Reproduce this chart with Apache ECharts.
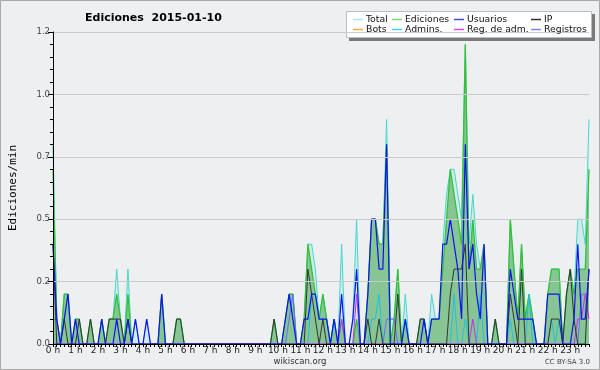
<!DOCTYPE html>
<html><head><meta charset="utf-8">
<script src="https://cdn.jsdelivr.net/npm/echarts@6/dist/echarts.min.js"></script>
<style>html,body{margin:0;padding:0;background:#eeeff1}#c{width:600px;height:370px}</style>
</head><body><div id="c"></div>
<script>
// tick labels
const hourLabels = ['0 h','1 h','2 h','3 h','4 h','5 h','6 h','7 h','8 h','9 h','10 h','11 h',
  '12 h','13 h','14 h','15 h','16 h','17 h','18 h','19 h','20 h','21 h','22 h','23 h'];

// edits per minute, one value per 10-minute bin (6 per hour row)
const total = [
 0.8,0.1,0,0.2,0.2,0,   0.1,0.1,0,0,0.1,0,   0,0.1,0,0.1,0.1,0.3,   0.1,0,0.3,0,0.1,0,
 0,0.1,0,0,0,0.2,       0,0,0,0.1,0.1,0,     0,0,0,0,0,0,           0,0,0,0,0,0,
 0,0,0,0,0,0,           0,0,0,0,0,0.1,       0,0,0.1,0.2,0.2,0,     0,0.1,0.4,0.4,0.3,0.1,
 0.2,0.1,0,0.1,0,0.4,   0,0,0.1,0.5,0,0,     0.2,0.5,0.5,0.4,0.4,0.9, 0.1,0.1,0.3,0,0.2,0,
 0,0,0.1,0.1,0,0.2,     0.1,0.1,0.4,0.6,0.7,0.7, 0.6,0.5,1.2,0.4,0.6,0.4, 0.3,0.4,0,0,0.1,0,
 0,0,0.5,0.3,0.1,0.4,   0.1,0.2,0.1,0,0,0,   0.2,0.3,0.3,0.3,0,0.2, 0.3,0.2,0.5,0.5,0.4,0.9
];
const ediciones = [
 0.7,0.1,0,0.2,0.2,0,   0.1,0.1,0,0,0.1,0,   0,0.1,0,0.1,0.1,0.2,   0.1,0,0.2,0,0,0,
 0,0,0,0,0,0.2,         0,0,0,0.1,0.1,0,     0,0,0,0,0,0,           0,0,0,0,0,0,
 0,0,0,0,0,0,           0,0,0,0,0,0.1,       0,0,0.1,0.2,0.2,0,     0,0.1,0.4,0.3,0.2,0.1,
 0.2,0.1,0,0.1,0,0.1,   0,0,0,0.1,0,0,       0.2,0.5,0.5,0.4,0.4,0.8, 0,0.1,0.3,0,0.1,0,
 0,0,0.1,0.1,0,0.1,     0.1,0.1,0.3,0.5,0.7,0.6, 0.5,0.4,1.2,0.3,0.5,0.3, 0.3,0.4,0,0,0.1,0,
 0,0,0.5,0.3,0.1,0.4,   0.1,0.2,0.1,0,0,0,   0.2,0.3,0.3,0.3,0,0.2, 0.3,0.2,0.3,0.3,0.3,0.7
];
const usuarios = [
 0.4,0.1,0,0.1,0.2,0,   0.1,0,0,0,0,0,       0,0.1,0,0,0,0.1,       0,0,0.1,0,0.1,0,
 0,0.1,0,0,0,0.2,       0,0,0,0,0,0,         0,0,0,0,0,0,           0,0,0,0,0,0,
 0,0,0,0,0,0,           0,0,0,0,0,0,         0,0,0.1,0.2,0.1,0,     0,0.1,0.1,0.2,0.2,0.1,
 0.1,0.1,0,0.1,0,0.2,   0,0,0.1,0.3,0,0,     0.2,0.5,0.5,0.3,0.3,0.8, 0,0,0,0,0.1,0,
 0,0,0,0.1,0,0.1,       0.1,0.1,0.4,0.4,0.5,0.4, 0.3,0.1,0.8,0.3,0.4,0.2, 0.1,0.4,0,0,0,0,
 0,0,0.3,0.2,0.1,0.1,   0.1,0.1,0.1,0,0,0,   0.2,0.2,0.2,0.2,0,0,   0,0.1,0.4,0.1,0.1,0.3
];
const ip = [
 0.4,0,0,0.1,0,0,       0,0.1,0,0,0.1,0,     0,0,0,0.1,0.1,0.1,     0.1,0,0.1,0,0,0,
 0,0,0,0,0,0,           0,0,0,0.1,0.1,0,     0,0,0,0,0,0,           0,0,0,0,0,0,
 0,0,0,0,0,0,           0,0,0,0,0,0.1,       0,0,0,0,0,0,           0,0,0.3,0.2,0.1,0,
 0.1,0,0,0,0,0,         0,0,0,0,0,0,         0.1,0,0,0.1,0,0,       0,0,0.2,0,0,0,
 0,0,0.1,0.1,0,0,       0,0,0,0,0.2,0.3,     0.3,0.3,0.4,0,0,0,     0,0,0,0,0.1,0,
 0,0,0.2,0.1,0,0.3,     0,0,0,0,0,0,         0,0.1,0.1,0.1,0,0.2,   0.3,0.1,0,0,0,0.3
];
const bots = [
 0,0,0,0,0,0, 0,0,0,0,0,0, 0,0,0,0,0,0, 0,0,0,0,0,0,
 0,0,0,0,0,0, 0,0,0,0,0,0, 0,0,0,0,0,0, 0,0,0,0,0,0,
 0,0,0,0,0,0, 0,0,0,0,0,0, 0,0,0,0,0,0, 0,0,0,0,0,0,
 0,0,0,0,0,0, 0,0,0,0,0,0, 0,0,0,0,0,0, 0,0,0,0,0,0,
 0,0,0,0,0,0, 0,0,0,0,0,0, 0,0,0,0,0,0, 0,0,0,0,0,0,
 0,0,0,0,0,0, 0,0,0,0,0,0, 0,0,0,0,0,0, 0,0,0,0,0,0
];
const admins = [
 0,0,0,0,0,0, 0,0,0,0,0,0, 0,0,0,0,0,0, 0,0,0,0,0,0,
 0,0,0,0,0,0, 0,0,0,0,0,0, 0,0,0,0,0,0, 0,0,0,0,0,0,
 0,0,0,0,0,0, 0,0,0,0,0,0, 0,0,0,0,0,0, 0,0,0,0.2,0.2,0.1,
 0.1,0.1,0,0.1,0,0, 0,0,0,0,0,0, 0,0.1,0.1,0.2,0,0, 0,0,0,0,0.1,0,
 0,0,0,0,0,0, 0,0,0,0,0,0.2, 0,0,0.1,0,0,0, 0.2,0,0,0,0,0,
 0,0,0.1,0,0,0, 0,0.2,0,0,0,0, 0,0.1,0,0.1,0,0, 0,0,0,0,0,0
];
const regAdm = [
 0,0,0,0,0,0, 0,0,0,0,0,0, 0,0,0,0,0,0, 0,0,0,0,0,0,
 0,0,0,0,0,0, 0,0,0,0,0,0, 0,0,0,0,0,0, 0,0,0,0,0,0,
 0,0,0,0,0,0, 0,0,0,0,0,0, 0,0,0,0,0,0, 0,0,0,0,0,0,
 0,0,0,0,0,0.1, 0,0,0,0.2,0,0, 0,0,0,0,0,0, 0,0,0,0,0,0,
 0,0,0,0,0,0, 0,0,0,0,0,0, 0,0,0,0,0.1,0, 0,0,0,0,0,0,
 0,0,0,0,0,0, 0,0,0,0,0,0, 0,0,0,0,0,0, 0,0,0.1,0.1,0.2,0.1
];
const registros = [
 0.1,0.1,0,0,0,0, 0,0,0,0,0,0, 0,0,0,0,0,0, 0,0,0,0,0,0,
 0,0,0,0,0,0, 0,0,0,0,0,0, 0,0,0,0,0,0, 0,0,0,0,0,0,
 0,0,0,0,0,0, 0,0,0,0,0,0, 0,0,0,0.1,0.2,0, 0,0,0,0,0,0,
 0,0,0,0,0,0, 0,0,0,0,0,0, 0,0,0,0,0,0.1, 0.1,0.1,0,0,0,0,
 0,0,0,0,0,0, 0,0,0,0,0,0, 0,0,0,0,0,0, 0,0,0,0,0,0,
 0,0,0,0,0,0, 0,0,0,0,0,0, 0,0,0,0,0,0, 0,0,0,0.2,0.2,0.2
];

// 10-minute bin categories
const categories = [];
for (let h = 0; h < 24; h++) for (let m = 0; m < 60; m += 10) categories.push(h + ':' + (m < 10 ? '0' : '') + m);

const chart = echarts.init(document.getElementById('c'), null, {renderer: 'canvas'});
const FONT = 'DejaVu Sans';
function line(name, data, color, width, area, legendColor) {
  const s = {
    name, type: 'line', data, symbol: 'none', showSymbol: false, smooth: false,
    lineStyle: {color, width}, itemStyle: {color: legendColor || color},
    emphasis: {disabled: true}, animation: false
  };
  if (area) s.areaStyle = {color: area, opacity: 1};
  return s;
}
const legendBase = {
  orient: 'vertical', top: 14.5, padding: 0, itemWidth: 10, itemHeight: 1.5, itemGap: 0, icon: 'rect',
  z: 20, selectedMode: false,
  textStyle: {fontFamily: FONT, fontSize: 9.3, color: '#111', lineHeight: 10, padding: [0, 0, 0, -2]}
};
const option = {
  backgroundColor: '#eeeff1',
  animation: false,
  grid: {left: 47, right: 11, top: 32, bottom: 26, containLabel: false},
  legend: [
    Object.assign({}, legendBase, {left: 353, data: [{name: 'Total', itemStyle: {color: '#a8ece4'}}, {name: 'Bots', itemStyle: {color: '#ffa640'}}]}),
    Object.assign({}, legendBase, {left: 392, data: [{name: 'Ediciones', itemStyle: {color: '#7ed87e'}}, {name: 'Admins.', itemStyle: {color: '#40d4e8'}}]}),
    Object.assign({}, legendBase, {left: 454, data: [{name: 'Usuarios', itemStyle: {color: '#4444ff'}}, {name: 'Reg. de adm.', itemStyle: {color: '#e040f0'}}]}),
    Object.assign({}, legendBase, {left: 531, data: [{name: 'IP', itemStyle: {color: '#333333'}}, {name: 'Registros', itemStyle: {color: '#8080ff'}}]})
  ],
  xAxis: {
    type: 'category', data: categories, boundaryGap: false, z: 10,
    axisLine: {show: true, lineStyle: {color: '#000', width: 1}},
    axisTick: {show: true, interval: 0, length: 3, lineStyle: {color: '#000'}},
    axisLabel: {interval: 5, fontFamily: FONT, fontSize: 9, color: '#222', margin: 2,
      formatter: (v, i) => (i % 6 === 0 ? hourLabels[i / 6] : '')},
    splitLine: {show: false}
  },
  yAxis: {
    type: 'value', min: 0, max: 1.25, interval: 0.25, z: 10,
    name: 'Ediciones/min', nameLocation: 'middle', nameGap: 34, nameRotate: 90,
    nameTextStyle: {fontFamily: 'DejaVu Sans Mono', fontSize: 11, color: '#000'},
    axisLine: {show: true, lineStyle: {color: '#000', width: 1}},
    axisTick: {show: true, length: 5, lineStyle: {color: '#000'}},
    minorTick: {show: true, splitNumber: 5, length: 3, lineStyle: {color: '#000'}},
    splitLine: {show: true, lineStyle: {color: '#cbcbcb', width: 1}},
    axisLabel: {fontFamily: FONT, fontSize: 8.5, color: '#444', margin: 3,
      formatter: v => (Math.floor(v * 10 + 1e-9) / 10).toFixed(1)}
  },
  series: [
    line('Total', total, '#44d8cc', 1, 'rgba(120,220,225,0.22)', '#a8ece4'),
    line('Ediciones', ediciones, '#36c036', 1.3, 'rgba(60,160,60,0.5)', '#7ed87e'),
    line('Bots', bots, '#ffa640', 1),
    line('Admins.', admins, '#22c0e0', 1),
    line('Registros', registros, '#6a6aff', 1),
    line('Reg. de adm.', regAdm, '#c030f0', 1),
    line('IP', ip, '#333333', 1),
    line('Usuarios', usuarios, '#1010f0', 1.2)
  ],
  graphic: [
    {type: 'rect', silent: true, z: 0, shape: {x: 0.5, y: 0.5, width: 599, height: 369}, style: {fill: 'none', stroke: '#a8a8a8', lineWidth: 1}},
    {type: 'text', silent: true, z: 5, style: {text: 'Ediciones  2015-01-10', x: 85, y: 18, fontFamily: FONT, fontSize: 11, fontWeight: 'bold', fill: '#000', verticalAlign: 'middle'}},
    {type: 'rect', silent: true, z: 3, shape: {x: 349, y: 14, width: 246, height: 27}, style: {fill: '#7a7a7a'}},
    {type: 'rect', silent: true, z: 4, shape: {x: 346.5, y: 11.5, width: 245, height: 26}, style: {fill: '#ffffff', stroke: '#bdbdbd', lineWidth: 1}},
    {type: 'text', silent: true, z: 5, style: {text: 'wikiscan.org', x: 300, y: 362, fontFamily: FONT, fontSize: 8.5, fill: '#333', align: 'center', verticalAlign: 'middle'}},
    {type: 'text', silent: true, z: 5, style: {text: 'CC BY-SA 3.0', x: 590, y: 362, fontFamily: FONT, fontSize: 7, fill: '#444', align: 'right', verticalAlign: 'middle'}}
  ]
};
chart.setOption(option);
</script></body></html>
